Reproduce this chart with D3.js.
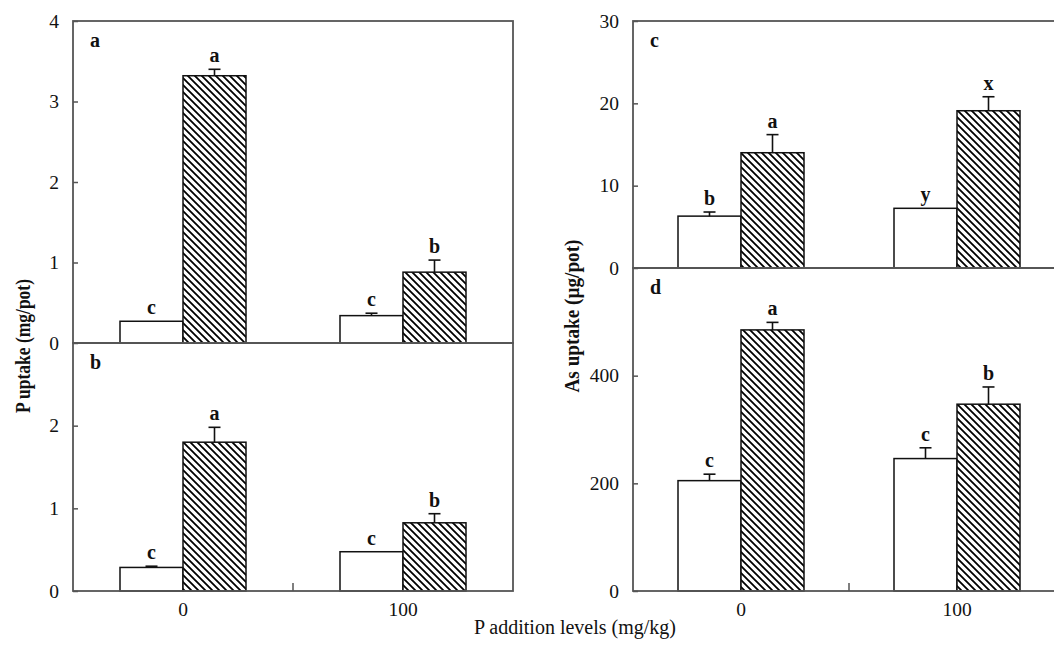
<!DOCTYPE html>
<html><head><meta charset="utf-8">
<script src="https://cdn.jsdelivr.net/npm/d3@7"></script>
<style>
body{margin:0;background:#fff;}
svg{display:block;}
text{font-family:"Liberation Serif","Times New Roman",serif;fill:#111;}
</style></head>
<body>
<script>
// ---- data ----
const categories = ["0", "100"];
const seriesNames = ["Non-inoculated", "Inoculated"];

const panelA_white = [0.27, 0.34];   const panelA_whiteErr = [0, 0.03];
const panelA_hatch = [3.32, 0.88];   const panelA_hatchErr = [0.08, 0.15];
const panelA_letters = [["c", "a"], ["c", "b"]];

const panelB_white = [0.285, 0.475]; const panelB_whiteErr = [0.015, 0];
const panelB_hatch = [1.80, 0.825];  const panelB_hatchErr = [0.18, 0.11];
const panelB_letters = [["c", "a"], ["c", "b"]];

const panelC_white = [6.3, 7.25];    const panelC_whiteErr = [0.5, 0];
const panelC_hatch = [14.0, 19.1];   const panelC_hatchErr = [2.2, 1.7];
const panelC_letters = [["b", "a"], ["y", "x"]];

const panelD_white = [205, 246];     const panelD_whiteErr = [12, 20];
const panelD_hatch = [485, 347];     const panelD_hatchErr = [14, 32];
const panelD_letters = [["c", "a"], ["c", "b"]];

const ticksA = [0, 1, 2, 3, 4];
const ticksB = [0, 1, 2];
const ticksC = [0, 10, 20, 30];
const ticksD = [0, 200, 400];

const W = 1054, H = 646;
const FS_TICK = 19.5, FS_LET = 20;
const svg = d3.select("body").append("svg").attr("width", W).attr("height", H);

const defs = svg.append("defs");
const s = 7;
const pat = defs.append("pattern").attr("id", "hatch").attr("patternUnits", "userSpaceOnUse")
  .attr("width", s).attr("height", s);
pat.append("rect").attr("width", s).attr("height", s).attr("fill", "#fff");
pat.append("path")
  .attr("d", `M-1,-1L${s+1},${s+1}M-1,${s-1}L1,${s+1}M${s-1},-1L${s+1},1`)
  .attr("stroke", "#000").attr("stroke-width", 1.8);

const frameColor = "#555";

function drawPanel(cfg) {
  const g = svg.append("g");
  const x = d3.scaleBand().domain(categories).range([cfg.x0, cfg.x1]).padding(0);
  const barW = 63;
  const xs = d3.scaleBand().domain(seriesNames).range([-barW, barW]).padding(0);
  const y = d3.scaleLinear().domain(cfg.domain).range([cfg.yb, cfg.yt]);

  const rows = [];
  categories.forEach((c, i) => {
    rows.push({c, s: seriesNames[0], v: cfg.white[i], e: cfg.whiteErr[i], l: cfg.letters[i][0], fill: "#fff"});
    rows.push({c, s: seriesNames[1], v: cfg.hatch[i], e: cfg.hatchErr[i], l: cfg.letters[i][1], fill: "url(#hatch)"});
  });
  const cx = d => x(d.c) + x.bandwidth() / 2 + xs(d.s);

  g.selectAll("rect.bar").data(rows).join("rect")
    .attr("x", d => cx(d)).attr("width", xs.bandwidth())
    .attr("y", d => y(d.v)).attr("height", d => y(0) - y(d.v))
    .attr("fill", d => d.fill).attr("stroke", "#111").attr("stroke-width", 1.5);

  const eb = rows.filter(d => d.e > 0);
  g.selectAll("line.err").data(eb).join("line")
    .attr("x1", d => cx(d) + xs.bandwidth() / 2).attr("x2", d => cx(d) + xs.bandwidth() / 2)
    .attr("y1", d => y(d.v)).attr("y2", d => y(d.v + d.e))
    .attr("stroke", "#111").attr("stroke-width", 1.6);
  g.selectAll("line.cap").data(eb).join("line")
    .attr("x1", d => cx(d) + xs.bandwidth() / 2 - 6).attr("x2", d => cx(d) + xs.bandwidth() / 2 + 6)
    .attr("y1", d => y(d.v + d.e)).attr("y2", d => y(d.v + d.e))
    .attr("stroke", "#111").attr("stroke-width", 1.6);

  g.selectAll("text.sig").data(rows).join("text")
    .attr("x", d => cx(d) + xs.bandwidth() / 2).attr("y", d => y(d.v + d.e) - 7)
    .attr("text-anchor", "middle").attr("font-size", FS_LET).attr("font-weight", "bold")
    .text(d => d.l);

  // y axis
  const ax = g.append("g").attr("transform", `translate(${cfg.x0},0)`)
    .call(d3.axisLeft(y).tickValues(cfg.ticks).tickSize(-5).tickPadding(14).tickFormat(d3.format("d")));
  ax.select(".domain").remove();
  ax.selectAll(".tick line").attr("stroke", frameColor).attr("stroke-width", 1.5);
  ax.selectAll(".tick text").attr("font-size", FS_TICK).attr("font-family", "Liberation Serif").attr("fill", "#111");

  // frame
  g.append("rect").attr("x", cfg.x0).attr("y", cfg.yt).attr("width", cfg.x1 - cfg.x0).attr("height", cfg.yb - cfg.yt)
    .attr("fill", "none").attr("stroke", frameColor).attr("stroke-width", 1.8);

  // panel letter
  g.append("text").attr("x", cfg.x0 + 17).attr("y", cfg.yt + 26).attr("font-size", FS_LET).attr("font-weight", "bold").text(cfg.tag);

  if (cfg.bottom) {
    const bx = g.append("g").attr("transform", `translate(0,${cfg.yb})`)
      .call(d3.axisBottom(x).tickSize(0).tickPadding(11));
    bx.select(".domain").remove();
    bx.selectAll(".tick text").attr("font-size", FS_TICK).attr("font-family", "Liberation Serif").attr("fill", "#111");
    // separator tick between categories
    g.append("line").attr("x1", x("100")).attr("x2", x("100")).attr("y1", cfg.yb).attr("y2", cfg.yb - 8)
      .attr("stroke", frameColor).attr("stroke-width", 1.5);
  }
}

const L = {x0: 73, x1: 513}, R = {x0: 633, x1: 1065};
drawPanel({...L, yt: 21, yb: 343, domain: [0, 4], ticks: ticksA, white: panelA_white, whiteErr: panelA_whiteErr, hatch: panelA_hatch, hatchErr: panelA_hatchErr, letters: panelA_letters, tag: "a"});
drawPanel({...L, yt: 343, yb: 591, domain: [0, 3], ticks: ticksB, white: panelB_white, whiteErr: panelB_whiteErr, hatch: panelB_hatch, hatchErr: panelB_hatchErr, letters: panelB_letters, tag: "b", bottom: true});
drawPanel({...R, yt: 21, yb: 268, domain: [0, 30], ticks: ticksC, white: panelC_white, whiteErr: panelC_whiteErr, hatch: panelC_hatch, hatchErr: panelC_hatchErr, letters: panelC_letters, tag: "c"});
drawPanel({...R, yt: 268, yb: 591, domain: [0, 600], ticks: ticksD, white: panelD_white, whiteErr: panelD_whiteErr, hatch: panelD_hatch, hatchErr: panelD_hatchErr, letters: panelD_letters, tag: "d", bottom: true});

svg.append("text").attr("transform", "translate(30,346) rotate(-90)").attr("text-anchor", "middle")
  .attr("font-size", 20).attr("font-weight", "bold")
  .attr("textLength", 134).attr("lengthAdjust", "spacingAndGlyphs").text("P uptake (mg/pot)");
svg.append("text").attr("transform", "translate(579,316) rotate(-90)").attr("text-anchor", "middle")
  .attr("font-size", 20).attr("font-weight", "bold")
  .attr("textLength", 153).attr("lengthAdjust", "spacingAndGlyphs").text("As uptake (µg/pot)");
svg.append("text").attr("x", 575).attr("y", 634).attr("text-anchor", "middle")
  .attr("font-size", 20).text("P addition levels (mg/kg)");
</script>
</body></html>
